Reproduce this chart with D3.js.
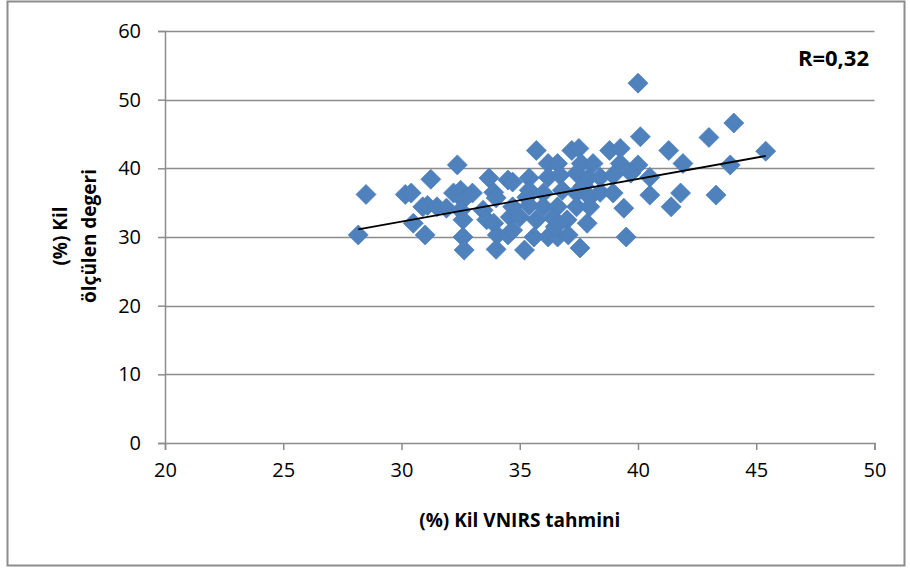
<!DOCTYPE html>
<html>
<head>
<meta charset="utf-8">
<script src="https://cdn.jsdelivr.net/npm/d3@7"></script>
<style>
  html, body { margin: 0; padding: 0; background: #fff; }
  svg { display: block; font-family: "Open Sans", "DejaVu Sans", sans-serif; }
</style>
</head>
<body>
<div id="chart"></div>
<script>
// VNIRS predicted clay (x) vs measured clay (y)
const predicted = [
  28.17, 28.5, 30.16, 30.41, 31.24, 32.36, 30.5, 31.0, 30.9, 31.1,
  31.5, 31.9, 32.2, 32.5, 32.6, 33.0, 32.5, 32.6, 32.6, 32.65,
  33.7, 34.5, 33.9, 34.0, 33.45, 33.6, 33.9, 34.05, 34.0, 34.5,
  34.6, 34.7, 35.7, 37.2, 37.5, 38.8, 39.25, 40.1, 41.3, 41.9,
  36.2, 36.6, 37.6, 38.1, 39.25, 40.0, 35.4, 36.2, 36.7, 37.4,
  37.9, 38.4, 38.95, 39.7, 40.5, 34.7, 35.4, 36.0, 36.8, 37.4,
  37.96, 38.4, 38.95, 40.5, 41.8, 41.4, 39.4, 35.4, 36.0, 36.6,
  37.4, 37.96, 35.0, 35.7, 36.4, 37.0, 37.85, 34.7, 35.6, 36.2,
  36.6, 37.05, 39.5, 35.2, 37.55, 44.05, 43.0, 45.4, 43.9, 43.3,
  40.0, 36.5, 35.3, 37.7
];
const measured = [
  30.3, 36.2, 36.2, 36.4, 38.4, 40.5, 32.0, 30.3, 34.4, 34.6,
  34.4, 34.2, 36.4, 36.8, 35.4, 36.4, 33.9, 32.5, 30.0, 28.1,
  38.6, 38.3, 36.5, 35.7, 33.9, 32.5, 32.0, 30.3, 28.2, 30.3,
  32.9, 34.4, 42.6, 42.6, 42.9, 42.6, 42.9, 44.6, 42.6, 40.7,
  40.7, 40.7, 40.7, 40.7, 40.7, 40.5, 38.6, 38.7, 39.0, 39.3,
  38.6, 38.7, 39.0, 39.3, 38.7, 38.0, 36.8, 36.4, 36.8, 36.4,
  35.8, 36.5, 36.4, 36.1, 36.4, 34.4, 34.2, 34.6, 34.4, 34.4,
  34.4, 34.4, 32.9, 32.5, 32.8, 32.5, 32.0, 31.0, 30.0, 30.0,
  30.0, 30.3, 30.0, 28.1, 28.4, 46.6, 44.5, 42.5, 40.5, 36.1,
  52.4, 31.5, 35.8, 37.5
];

// linear trend line ends
const trendX = [28.17, 45.4];
const trendY = [31.1, 41.8];

const xTicks = [20, 25, 30, 35, 40, 45, 50];
const yTicks = [0, 10, 20, 30, 40, 50, 60];
const rLabel = 'R=0,32';

const width = 910, height = 569;
const margin = { left: 165, right: 35, top: 31, bottom: 126 };

const svg = d3.select('#chart').append('svg')
    .attr('width', width)
    .attr('height', height);

// outer frame
svg.append('rect')
    .attr('x', 7.5).attr('y', 1.5)
    .attr('width', 897).attr('height', 564)
    .attr('fill', '#fff')
    .attr('stroke', '#8c8c8c')
    .attr('stroke-width', 2);

const x = d3.scaleLinear().domain([20, 50]).range([margin.left, width - margin.right - 0.5]);
const y = d3.scaleLinear().domain([0, 60]).range([height - margin.bottom, margin.top]);

// horizontal gridlines
svg.append('g')
    .selectAll('line')
    .data(yTicks.filter(d => d > 0))
    .join('line')
    .attr('x1', x(20)).attr('x2', x(50))
    .attr('y1', d => Math.round(y(d)) + 0.5)
    .attr('y2', d => Math.round(y(d)) + 0.5)
    .attr('stroke', '#8c8c8c')
    .attr('stroke-width', 1.5);

// y axis
const yAxis = svg.append('g')
    .attr('transform', `translate(${x(20)},0)`)
    .call(d3.axisLeft(y).tickValues(yTicks).tickSize(7).tickPadding(17));
yAxis.select('.domain').attr('stroke', '#8c8c8c').attr('stroke-width', 1.5);
yAxis.selectAll('.tick line').attr('stroke', '#8c8c8c').attr('stroke-width', 1.5);
yAxis.selectAll('.tick text')
    .attr('font-family', '"Open Sans", sans-serif')
    .attr('font-size', 20)
    .attr('fill', '#000');

// x axis
const xAxis = svg.append('g')
    .attr('transform', `translate(0,${y(0)})`)
    .call(d3.axisBottom(x).tickValues(xTicks).tickSize(7).tickPadding(13));
xAxis.select('.domain').attr('stroke', '#8c8c8c').attr('stroke-width', 1.5);
xAxis.selectAll('.tick line').attr('stroke', '#8c8c8c').attr('stroke-width', 1.5);
xAxis.selectAll('.tick text')
    .attr('font-family', '"Open Sans", sans-serif')
    .attr('font-size', 20)
    .attr('fill', '#000');

// points
const pts = predicted.map((v, i) => ({ x: v, y: measured[i] }));
svg.append('g')
    .selectAll('path')
    .data(pts)
    .join('path')
    .attr('transform', d => `translate(${x(d.x)},${y(d.y)})`)
    .attr('d', 'M0,-10L10,0L0,10L-10,0Z')
    .attr('fill', '#4f81bd')
    .attr('stroke', '#4a7ebb')
    .attr('stroke-width', 0.75);

// trend line
svg.append('line')
    .attr('x1', x(trendX[0])).attr('y1', y(trendY[0]))
    .attr('x2', x(trendX[1])).attr('y2', y(trendY[1]))
    .attr('stroke', '#000')
    .attr('stroke-width', 1.8);

// R label
svg.append('text')
    .attr('x', 869).attr('y', 66)
    .attr('text-anchor', 'end')
    .attr('font-size', 22)
    .attr('font-weight', 700)
    .text(rLabel);

// axis titles
svg.append('text')
    .attr('x', (x(20) + x(50)) / 2)
    .attr('y', 527)
    .attr('text-anchor', 'middle')
    .attr('font-size', 19)
    .attr('font-weight', 700)
    .text('(%) Kil VNIRS tahmini');

const yTitle = svg.append('text')
    .attr('transform', 'translate(0,236) rotate(-90)')
    .attr('text-anchor', 'middle')
    .attr('font-size', 19)
    .attr('font-weight', 700);
yTitle.append('tspan').attr('x', 0).attr('y', 67).text('(%) Kil');
yTitle.append('tspan').attr('x', 0).attr('y', 96).text('ölçülen degeri');
</script>
</body>
</html>
